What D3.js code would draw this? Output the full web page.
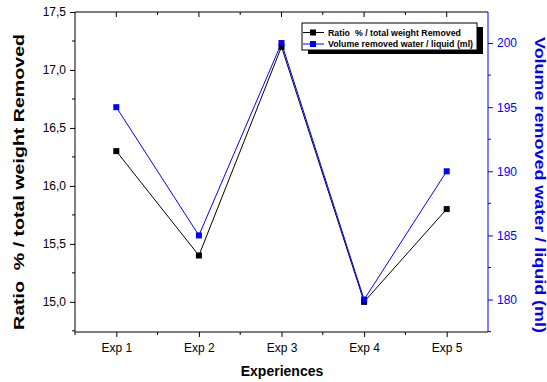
<!DOCTYPE html>
<html>
<head>
<meta charset="utf-8">
<script src="https://d3js.org/d3.v7.min.js"></script>
<style>
  body { margin: 0; background: #fff; }
  text { font-family: "Liberation Sans", Arial, sans-serif; }
</style>
</head>
<body>
<script>
// data
var experiments = ["Exp 1", "Exp 2", "Exp 3", "Exp 4", "Exp 5"];
var ratioValues = [16.3, 15.4, 17.2, 15.0, 15.8];
var volumeValues = [195, 185, 200, 180, 190];
var leftTicks = [15.0, 15.5, 16.0, 16.5, 17.0, 17.5];
var rightTicks = [180, 185, 190, 195, 200];

const width = 547, height = 382;
const pLeft = 75, pRight = 488, pTop = 12, pBottom = 332;
const blue = "#0000ff";

var svg = d3.select("body").append("svg").attr("width", width).attr("height", height);

var x = d3.scaleLinear().domain([0.5, 5.5]).range([pLeft, pRight]);
var y = d3.scaleLinear().domain([14.74, 17.5]).range([pBottom, pTop]);
var y2 = d3.scaleLinear().domain([177.47, 202.42]).range([pBottom, pTop]);

var fmt = d3.format(".1f");
var comma = d => fmt(d).replace(".", ",");

// minor ticks helper
function minor(g, pos, x1, x2, y1, y2v, color) {
  g.selectAll(null).data(pos).enter().append("line")
    .attr("x1", x1).attr("x2", x2).attr("y1", y1).attr("y2", y2v)
    .attr("stroke", color).attr("stroke-width", 1);
}

// bottom axis
var xa = svg.append("g").attr("transform", "translate(0," + pBottom + ")")
  .call(d3.axisBottom(x).tickValues([1, 2, 3, 4, 5]).tickFormat(d => experiments[d - 1]).tickSize(5).tickPadding(6));
xa.select(".domain").attr("d", "M" + pLeft + ",0H" + pRight);
xa.selectAll("text").attr("font-size", 12).attr("fill", "#000");
minor(xa, [0.5, 1.5, 2.5, 3.5, 4.5], d => x(d), d => x(d), 0, 3, "#000");

// top axis (mirror, ticks inward)
var xt = svg.append("g").attr("transform", "translate(0," + pTop + ")");
xt.append("line").attr("x1", pLeft).attr("x2", pRight).attr("stroke", "#000");
minor(xt, [1, 2, 3, 4, 5], d => x(d), d => x(d), 0, 5, "#000");
minor(xt, [1.5, 2.5, 3.5, 4.5], d => x(d), d => x(d), 0, 3, "#000");

// left axis
var ya = svg.append("g").attr("transform", "translate(" + pLeft + ",0)")
  .call(d3.axisLeft(y).tickValues(leftTicks).tickFormat(comma).tickSize(5).tickPadding(4));
ya.select(".domain").attr("d", "M0," + pTop + "V" + pBottom);
ya.selectAll("text").attr("font-size", 12).attr("fill", "#000");
minor(ya, [14.75, 15.25, 15.75, 16.25, 16.75, 17.25], 0, -3, d => y(d), d => y(d), "#000");

// right axis
var yr = svg.append("g").attr("transform", "translate(" + pRight + ",0)")
  .call(d3.axisRight(y2).tickValues(rightTicks).tickSize(5).tickPadding(4));
yr.select(".domain").attr("d", "M0," + pTop + "V" + pBottom).attr("stroke", blue);
yr.selectAll(".tick line").attr("stroke", blue);
yr.selectAll("text").attr("font-size", 12).attr("fill", blue);
minor(yr, [177.5, 182.5, 187.5, 192.5, 197.5], 0, 3, d => y2(d), d => y2(d), blue);

// series lines
var idx = d3.range(experiments.length);
svg.append("path").datum(idx)
  .attr("fill", "none").attr("stroke", "#000").attr("stroke-width", 1)
  .attr("d", d3.line().x(i => x(i + 1)).y(i => y(ratioValues[i])));
svg.append("path").datum(idx)
  .attr("fill", "none").attr("stroke", blue).attr("stroke-width", 1)
  .attr("d", d3.line().x(i => x(i + 1)).y(i => y2(volumeValues[i])));

var ms = 6;
svg.selectAll(".mk").data(idx).enter().append("rect")
  .attr("x", i => x(i + 1) - ms / 2).attr("y", i => y(ratioValues[i]) - ms / 2)
  .attr("width", ms).attr("height", ms).attr("fill", "#000");
svg.selectAll(".mb").data(idx).enter().append("rect")
  .attr("x", i => x(i + 1) - ms / 2).attr("y", i => y2(volumeValues[i]) - ms / 2)
  .attr("width", ms).attr("height", ms).attr("fill", blue);

// legend
var lg = svg.append("g").attr("transform", "translate(302,23)");
lg.append("rect").attr("x", 6).attr("y", 4).attr("width", 175).attr("height", 27).attr("fill", "#000");
lg.append("rect").attr("x", 0).attr("y", 0).attr("width", 175).attr("height", 27)
  .attr("fill", "#fff").attr("stroke", "#000");
var items = [["Ratio  % / total weight Removed", "#000"], ["Volume removed water / liquid (ml)", blue]];
items.forEach(function(it, k) {
  var yy = 9.5 + k * 11.5;
  lg.append("line").attr("x1", 1).attr("x2", 22).attr("y1", yy).attr("y2", yy).attr("stroke", it[1]);
  lg.append("rect").attr("x", 8).attr("y", yy - 3).attr("width", 6).attr("height", 6).attr("fill", it[1]);
  lg.append("text").attr("x", 26).attr("y", yy + 3.2).attr("font-size", 8.8).attr("font-weight", "bold")
    .style("white-space", "pre").text(it[0]);
});

// axis titles
svg.append("text").attr("x", 282).attr("y", 376).attr("text-anchor", "middle")
  .attr("font-size", 14).attr("font-weight", "bold").text("Experiences");
svg.append("text").attr("transform", "translate(24,182) rotate(-90)").attr("text-anchor", "middle")
  .attr("font-size", 14.5).attr("font-weight", "bold").style("white-space", "pre")
  .attr("textLength", 296).attr("lengthAdjust", "spacingAndGlyphs")
  .text("Ratio  % / total weight Removed");
svg.append("text").attr("transform", "translate(535,185) rotate(90)").attr("text-anchor", "middle")
  .attr("font-size", 14).attr("font-weight", "bold").attr("fill", blue)
  .attr("textLength", 296).attr("lengthAdjust", "spacingAndGlyphs")
  .text("Volume removed water / liquid (ml)");
</script>
</body>
</html>
